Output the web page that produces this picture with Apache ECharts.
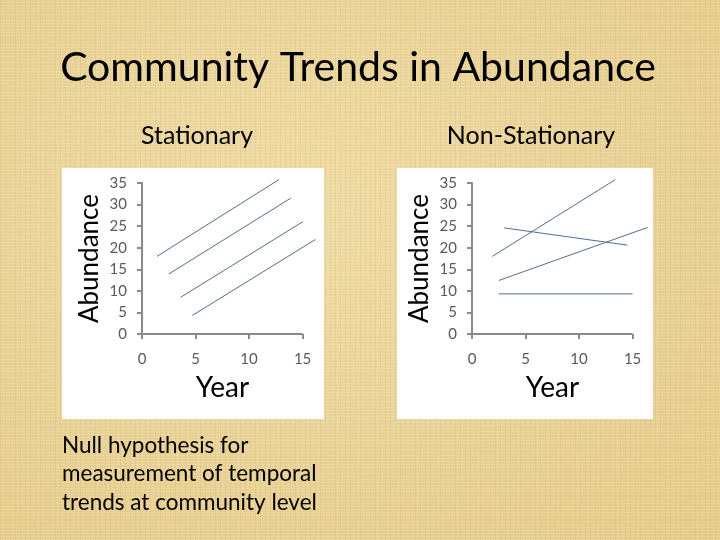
<!DOCTYPE html>
<html><head><meta charset="utf-8">
<script src="https://cdn.jsdelivr.net/npm/echarts@6/dist/echarts.min.js"></script>
<style>
html,body{margin:0;padding:0;width:720px;height:540px;overflow:hidden;}
body{
  background-color:#e7cf90;
  background-image:
    repeating-linear-gradient(90deg, rgba(150,110,30,0.09) 0px, rgba(150,110,30,0.09) 1px, transparent 1px, transparent 5px),
    repeating-linear-gradient(0deg, rgba(255,250,220,0.16) 0px, rgba(255,250,220,0.16) 1px, transparent 1px, transparent 3px),
    radial-gradient(ellipse at 40% 40%, #efdba5 0%, #e5cb8a 100%);
}
#chart{width:720px;height:540px;}
</style></head><body><div id="chart"></div>
<script>
// Stationary panel: four parallel trend lines (start and end points)
const stationaryStartX = [1.4, 2.5, 3.6, 4.7];
const stationaryStartY = [18.0, 13.9, 8.5, 4.3];
const stationaryEndX   = [12.8, 13.9, 15.0, 16.2];
const stationaryEndY   = [35.8, 31.5, 26.0, 21.9];
// Non-stationary panel: four differing trend lines
const nonStationaryStartX = [1.9, 3.0, 2.5, 2.5];
const nonStationaryStartY = [18.0, 24.6, 12.4, 9.3];
const nonStationaryEndX   = [13.4, 14.5, 16.4, 15.0];
const nonStationaryEndY   = [35.8, 20.6, 24.7, 9.3];
// Axis tick labels
const yearTicks = [0, 5, 10, 15];
const abundanceTicks = [0, 5, 10, 15, 20, 25, 30, 35];

const chart = echarts.init(document.getElementById('chart'), null, {renderer: 'canvas'});
const FONT = 'Lato, "Open Sans", sans-serif';
const lineColor = '#50708f';
const axisColor = '#8a8a8a';
const X_PLOT_MAX = 17; // plot room to the right of the last labelled year (lines run past 15)

function xAxisFor(gridIndex) {
  return {
    type: 'value', gridIndex: gridIndex,
    min: yearTicks[0], max: X_PLOT_MAX,
    name: 'Year', nameLocation: 'middle', nameGap: 40,
    nameTextStyle: {fontFamily: FONT, fontSize: 28, color: '#000', padding: [0, 21, 0, 0]},
    axisLine: {show: false},
    axisTick: {show: true, inside: false, length: 5, customValues: yearTicks, lineStyle: {color: axisColor, width: 2}},
    axisLabel: {fontFamily: FONT, fontSize: 15, color: '#595959', margin: 18, customValues: yearTicks},
    splitLine: {show: false}
  };
}
function yAxisFor(gridIndex) {
  return {
    type: 'value', gridIndex: gridIndex,
    min: abundanceTicks[0], max: abundanceTicks[abundanceTicks.length - 1], interval: 5,
    name: 'Abundance', nameLocation: 'middle', nameRotate: 90, nameGap: 39,
    nameTextStyle: {fontFamily: FONT, fontSize: 26, color: '#000'},
    axisLine: {show: true, lineStyle: {color: axisColor, width: 2}},
    axisTick: {show: true, inside: false, length: 5, lineStyle: {color: axisColor, width: 2}},
    axisLabel: {fontFamily: FONT, fontSize: 15, color: '#595959', margin: 15},
    splitLine: {show: false}
  };
}
function buildSeries(sx, sy, ex, ey, idx) {
  const s = sx.map((x, i) => ({
    type: 'line', xAxisIndex: idx, yAxisIndex: idx,
    data: [[x, sy[i]], [ex[i], ey[i]]],
    symbol: 'none', clip: false, silent: true,
    lineStyle: {color: lineColor, width: 1}
  }));
  // x axis line spanning only the labelled year range
  s.unshift({
    type: 'line', xAxisIndex: idx, yAxisIndex: idx,
    data: [[yearTicks[0], abundanceTicks[0]], [yearTicks[yearTicks.length - 1], abundanceTicks[0]]],
    symbol: 'none', clip: false, silent: true, z: 1,
    lineStyle: {color: axisColor, width: 2}
  });
  return s;
}

const option = {
  animation: false,
  backgroundColor: 'transparent',
  graphic: [
    {type: 'rect', z: -10, shape: {x: 62, y: 168, width: 262, height: 251}, style: {fill: '#ffffff'}},
    {type: 'rect', z: -10, shape: {x: 397, y: 168, width: 256, height: 251}, style: {fill: '#ffffff'}},
    {type: 'text', x: 358, y: 68, style: {text: 'Community Trends in Abundance', font: '41px ' + FONT, fill: '#000', align: 'center', verticalAlign: 'middle'}},
    {type: 'text', x: 197, y: 136, style: {text: 'Stationary', font: '25px ' + FONT, fill: '#000', align: 'center', verticalAlign: 'middle'}},
    {type: 'text', x: 531, y: 136, style: {text: 'Non-Stationary', font: '25px ' + FONT, fill: '#000', align: 'center', verticalAlign: 'middle'}},
    {type: 'text', x: 62, y: 431, style: {text: 'Null hypothesis for\nmeasurement of temporal\ntrends at community level', font: '22.5px ' + FONT, fill: '#000', align: 'left', verticalAlign: 'top', lineHeight: 28.5}}
  ],
  grid: [
    {left: 142, right: 396, top: 183, bottom: 206},
    {left: 472, right: 66, top: 183, bottom: 206}
  ],
  xAxis: [xAxisFor(0), xAxisFor(1)],
  yAxis: [yAxisFor(0), yAxisFor(1)],
  series: buildSeries(stationaryStartX, stationaryStartY, stationaryEndX, stationaryEndY, 0)
    .concat(buildSeries(nonStationaryStartX, nonStationaryStartY, nonStationaryEndX, nonStationaryEndY, 1))
};
chart.setOption(option);
</script>
</body></html>
